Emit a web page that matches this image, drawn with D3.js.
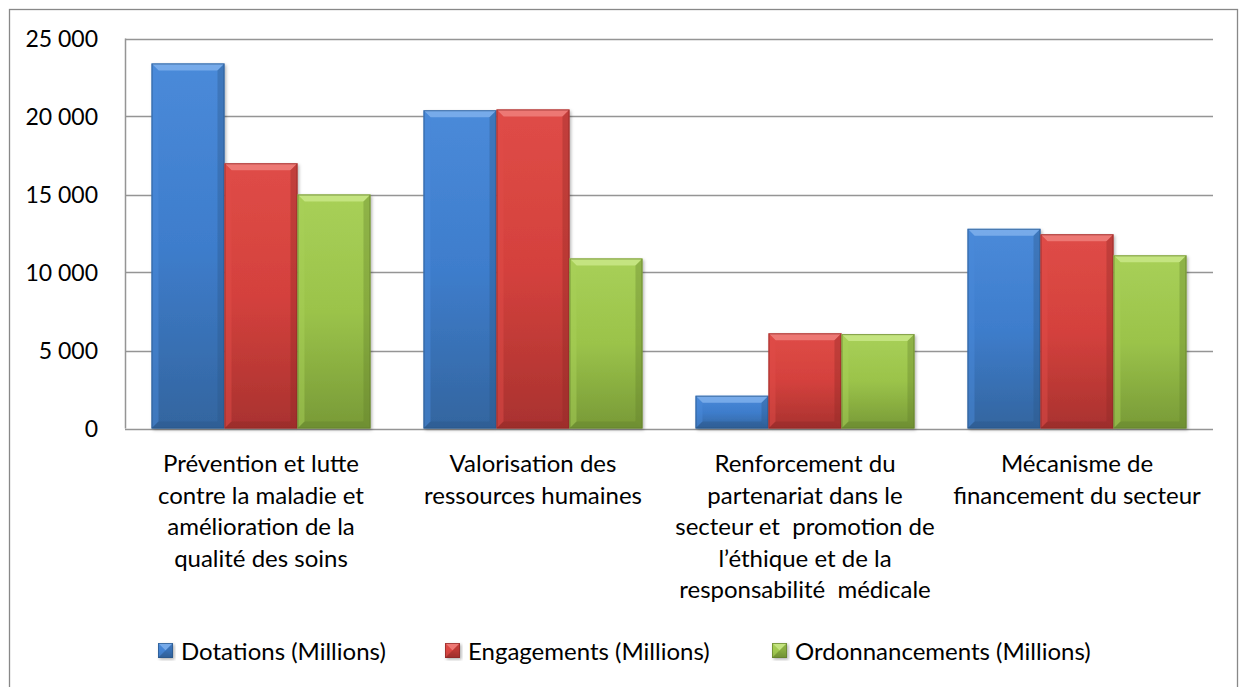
<!DOCTYPE html>
<html>
<head>
<meta charset="utf-8">
<script src="https://cdn.jsdelivr.net/npm/d3@7"></script>
<style>
  body { margin: 0; background: #fff; }
  svg text { font-family: Lato, "Open Sans", sans-serif; fill: #000; }
</style>
</head>
<body>
<svg id="canvas" width="1242" height="687"></svg>
<script>
const categories = [
  "Prévention et lutte contre la maladie et amélioration de la qualité des soins",
  "Valorisation des ressources humaines",
  "Renforcement du partenariat dans le secteur et promotion de l’éthique et de la responsabilité médicale",
  "Mécanisme de financement du secteur"
];
const categoryLines = [
  ["Prévention et lutte", "contre la maladie et", "amélioration de la", "qualité des soins"],
  ["Valorisation des", "ressources humaines"],
  ["Renforcement du", "partenariat dans le", "secteur et  promotion de", "l’éthique et de la", "responsabilité  médicale"],
  ["Mécanisme de", "financement du secteur"]
];
const seriesNames = ["Dotations (Millions)", "Engagements (Millions)", "Ordonnancements (Millions)"];
const dotations = [23400, 20400, 2100, 12800];
const engagements = [17000, 20450, 6100, 12450];
const ordonnancements = [15000, 10900, 6050, 11100];
const yTicks = [0, 5000, 10000, 15000, 20000, 25000];

const seriesValues = [dotations, engagements, ordonnancements];
const palette = [
  { top: "#4a8ad9", mid: "#3e7dcc", bot: "#33659f", light: "#7fb0ec", dark: "#2a5588" },
  { top: "#df4c47", mid: "#d4413d", bot: "#a9322f", light: "#f0807c", dark: "#8c2826" },
  { top: "#a8d058", mid: "#9bc34a", bot: "#789a37", light: "#c9e887", dark: "#627f2c" }
];

const svg = d3.select("#canvas");
const margin = { left: 125, right: 1213, top: 38.5, bottom: 428.5 };

// outer frame
svg.append("rect")
  .attr("x", 9.5).attr("y", 9.5)
  .attr("width", 1228).attr("height", 690)
  .attr("fill", "none").attr("stroke", "#888").attr("stroke-width", 1.3);

const x0 = d3.scaleBand()
  .domain(d3.range(categories.length))
  .range([margin.left, margin.right])
  .paddingInner(0.195)
  .paddingOuter(0.0975);

const x1 = d3.scaleBand()
  .domain(d3.range(seriesNames.length))
  .range([0, x0.bandwidth()]);

const y = d3.scaleLinear().domain([0, 25000]).range([margin.bottom, margin.top]);

// gradients
const defs = svg.append("defs");
palette.forEach((c, i) => {
  const g = defs.append("linearGradient").attr("id", "grad" + i)
    .attr("x1", 0).attr("y1", 0).attr("x2", 0).attr("y2", 1);
  g.append("stop").attr("offset", "0%").attr("stop-color", c.top);
  g.append("stop").attr("offset", "50%").attr("stop-color", c.mid);
  g.append("stop").attr("offset", "100%").attr("stop-color", c.bot);
});
const shadow = defs.append("filter").attr("id", "shadow")
  .attr("x", "-10%").attr("y", "-10%").attr("width", "130%").attr("height", "130%");
shadow.append("feDropShadow").attr("dx", 1.5).attr("dy", 1.5)
  .attr("stdDeviation", 1.5).attr("flood-color", "#000").attr("flood-opacity", 0.3);

// gridlines
svg.append("g").selectAll("line")
  .data(yTicks)
  .join("line")
  .attr("x1", margin.left).attr("x2", margin.right)
  .attr("y1", d => Math.round(y(d)) + 0.5).attr("y2", d => Math.round(y(d)) + 0.5)
  .attr("stroke", "#959595").attr("stroke-width", 1.5);

// y axis line
svg.append("line")
  .attr("x1", margin.left + 0.5).attr("x2", margin.left + 0.5)
  .attr("y1", margin.top).attr("y2", margin.bottom)
  .attr("stroke", "#959595").attr("stroke-width", 1.5);

// y labels
const fmt = d => d3.format(",")(d).replace(/,/g, " ");
svg.append("g").selectAll("text")
  .data(yTicks)
  .join("text")
  .attr("x", 98)
  .attr("y", d => y(d))
  .attr("dy", "0.36em")
  .attr("text-anchor", "end")
  .style("font-size", "23px")
  .text(fmt);

// bars
const bv = 7;
function drawBar(g, bx, by, bw, bh, si) {
  const c = palette[si];
  const b = Math.min(bv, bh / 2, bw / 2);
  g.append("rect")
    .attr("x", bx).attr("y", by).attr("width", bw).attr("height", bh)
    .attr("fill", `url(#grad${si})`)
    .attr("filter", "url(#shadow)");
  // top bevel
  g.append("polygon")
    .attr("points", [[bx, by], [bx + bw, by], [bx + bw - b, by + b], [bx + b, by + b]].join(" "))
    .attr("fill", c.light).attr("opacity", 0.85);
  // left bevel
  g.append("polygon")
    .attr("points", [[bx, by], [bx + b, by + b], [bx + b, by + bh - b], [bx, by + bh]].join(" "))
    .attr("fill", c.top).attr("opacity", 0.5);
  // right bevel
  g.append("polygon")
    .attr("points", [[bx + bw, by], [bx + bw - b, by + b], [bx + bw - b, by + bh - b], [bx + bw, by + bh]].join(" "))
    .attr("fill", c.dark).attr("opacity", 0.35);
  // bottom bevel
  g.append("polygon")
    .attr("points", [[bx, by + bh], [bx + b, by + bh - b], [bx + bw - b, by + bh - b], [bx + bw, by + bh]].join(" "))
    .attr("fill", c.dark).attr("opacity", 0.4);
  g.append("rect")
    .attr("x", bx + 0.5).attr("y", by + 0.5).attr("width", bw - 1).attr("height", bh - 1)
    .attr("fill", "none").attr("stroke", c.dark).attr("stroke-width", 1).attr("opacity", 0.7);
}

const barGroup = svg.append("g");
categories.forEach((cat, ci) => {
  seriesValues.forEach((vals, si) => {
    const g = barGroup.append("g");
    const bx = x0(ci) + x1(si);
    const by = y(vals[ci]);
    drawBar(g, bx, by, x1.bandwidth(), y(0) - by, si);
  });
});

// category labels
const catG = svg.append("g");
categoryLines.forEach((lines, ci) => {
  const t = catG.append("text")
    .attr("x", x0(ci) + x0.bandwidth() / 2)
    .attr("y", 472)
    .attr("text-anchor", "middle")
    .style("font-size", "24px");
  lines.forEach((ln, li) => {
    t.append("tspan")
      .attr("x", x0(ci) + x0.bandwidth() / 2)
      .attr("dy", li === 0 ? 0 : 31.5)
      .style("white-space", "pre")
      .text(ln);
  });
});

// legend
const legendX = [158, 445, 772];
const legend = svg.append("g");
seriesNames.forEach((name, si) => {
  const g = legend.append("g");
  drawBar(g, legendX[si], 643, 15, 15, si);
  g.append("text")
    .attr("x", legendX[si] + 23)
    .attr("y", 651)
    .attr("dy", "0.36em")
    .style("font-size", "24px")
    .text(name);
});
</script>
</body>
</html>
